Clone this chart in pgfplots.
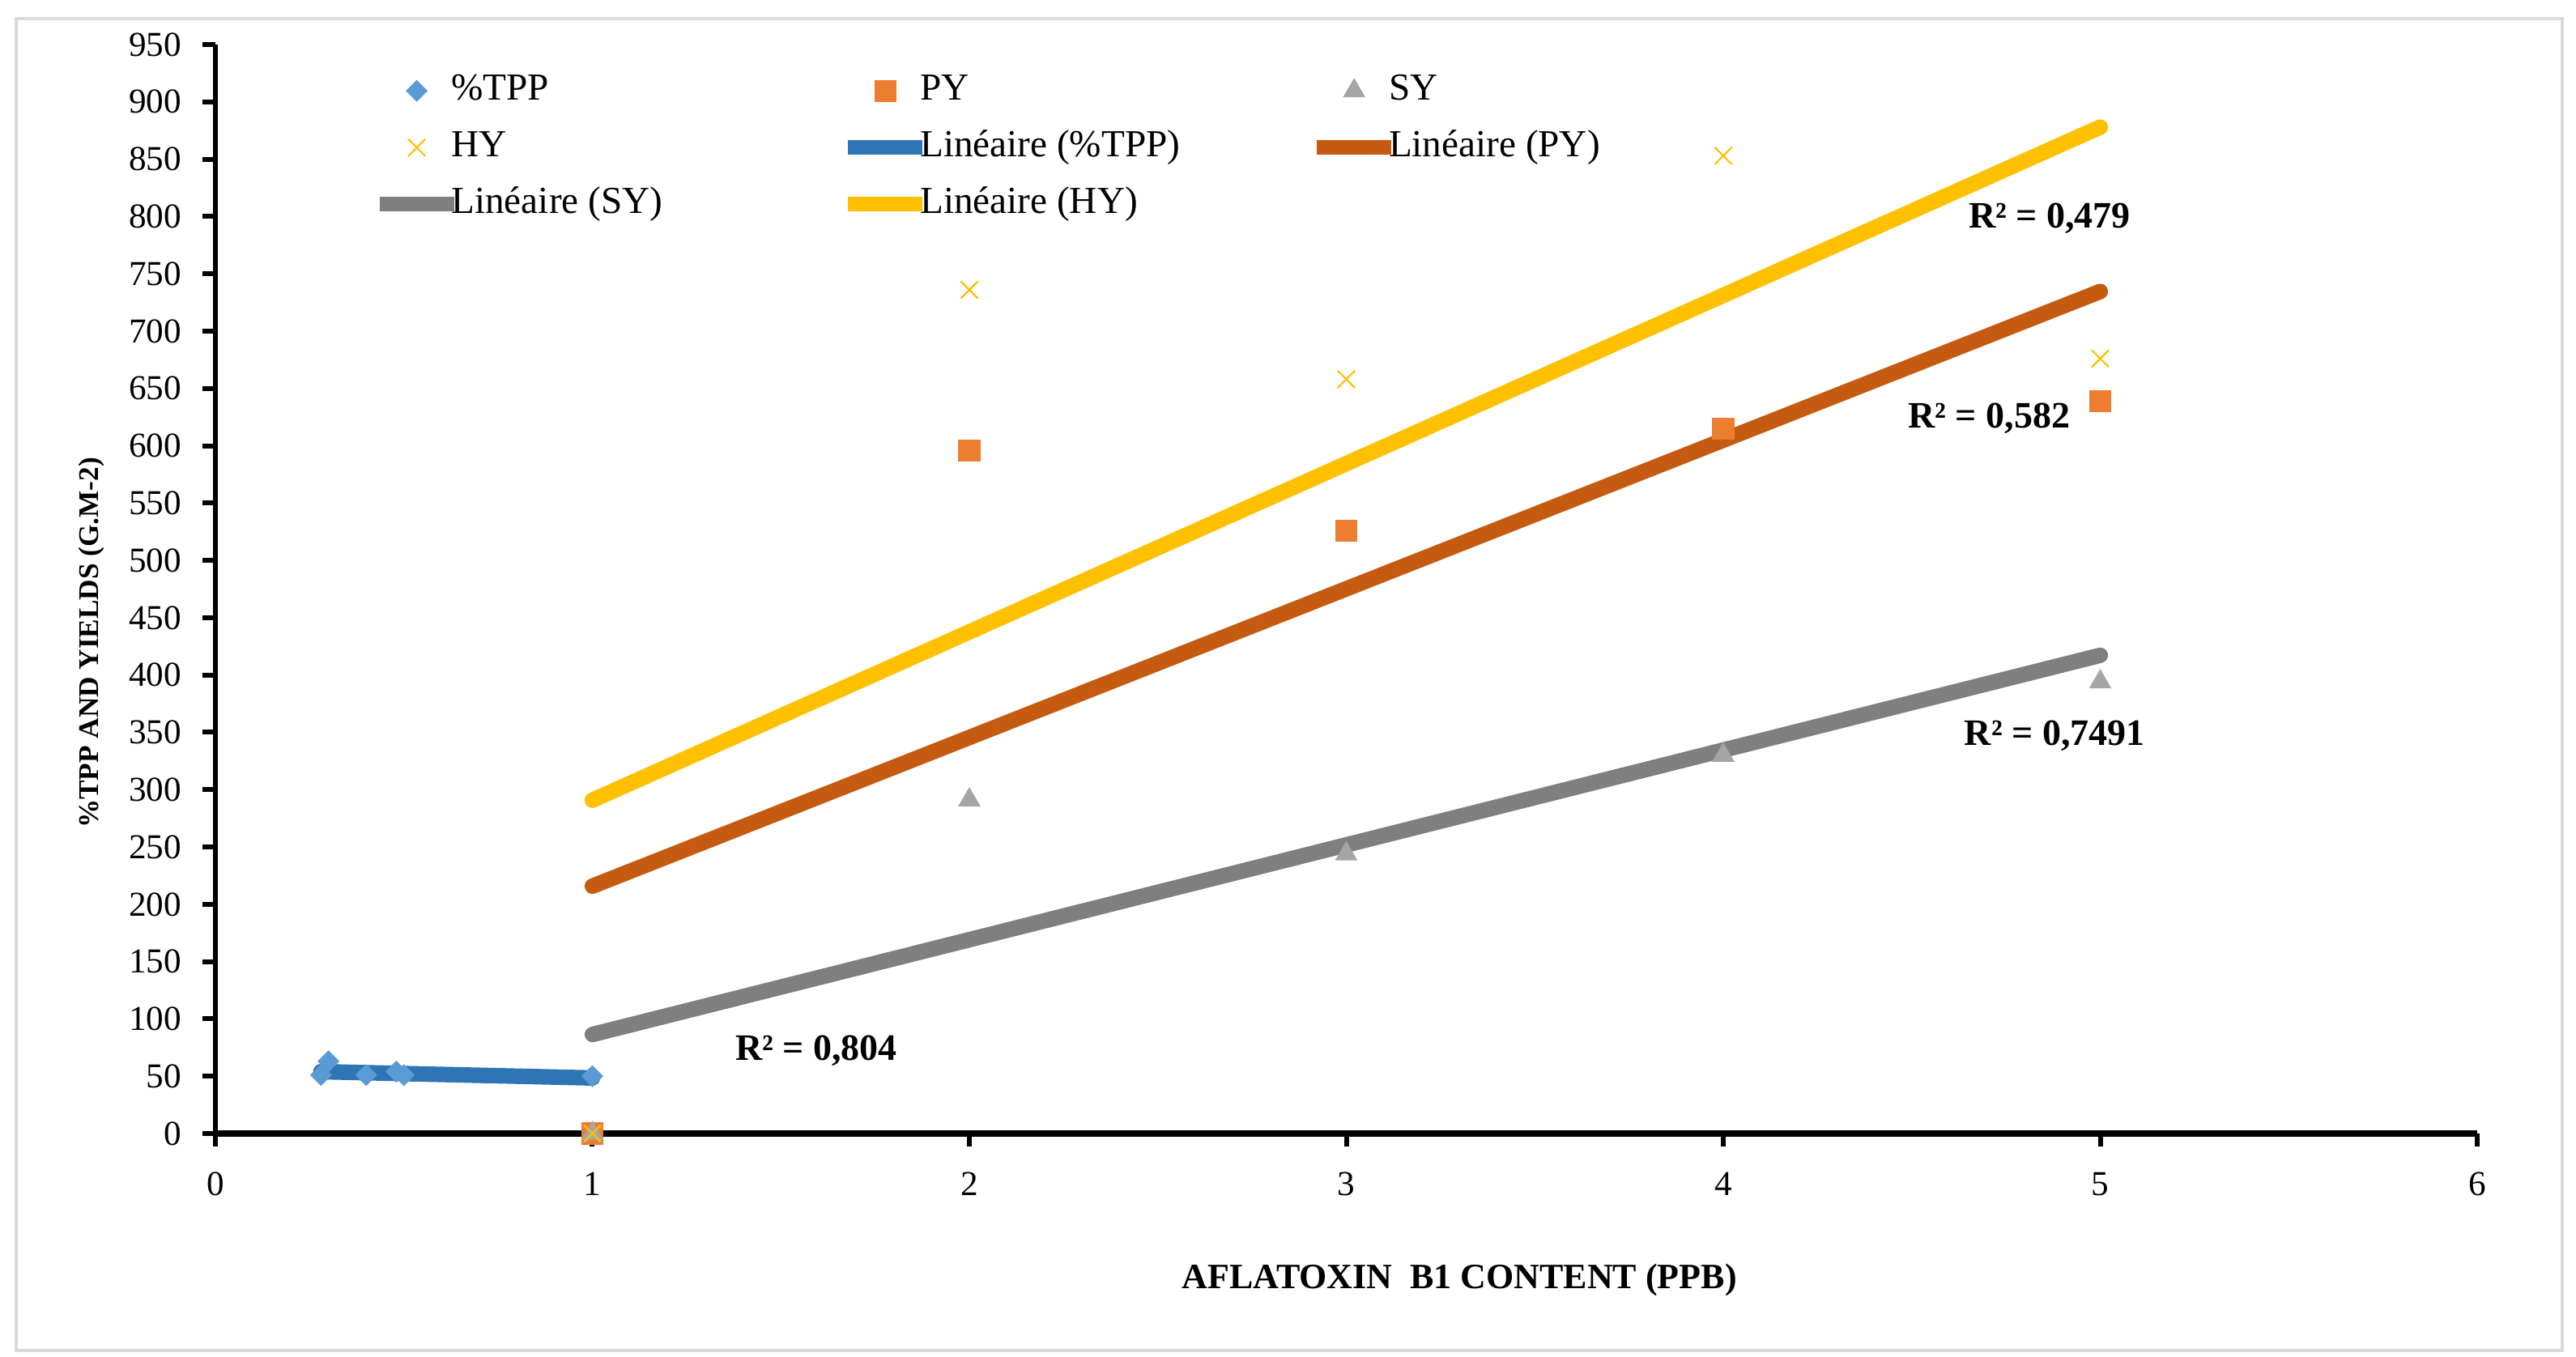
\documentclass[border=0pt]{standalone}
\usepackage{fontspec}
\setmainfont{Liberation Serif}
\usepackage{pgfplots}
\pgfplotsset{compat=1.18}
\definecolor{tppm}{HTML}{5B9BD5}
\definecolor{tppl}{HTML}{2E75B6}
\definecolor{pym}{HTML}{ED7D31}
\definecolor{pyl}{HTML}{C55A11}
\definecolor{sym}{HTML}{A5A5A5}
\definecolor{syl}{HTML}{7F7F7F}
\definecolor{hym}{HTML}{FFC000}
\definecolor{hyl}{HTML}{FFC000}
\definecolor{framegray}{HTML}{D9D9D9}
\newcommand{\lw}[1]{\makebox[115.3pt][l]{\hspace*{-4pt}#1}}
\begin{document}
\begin{tikzpicture}
\path[use as bounding box] (0,0) rectangle (795.25pt,418.75pt);
\draw[framegray, line width=0.8pt] (5pt,1.75pt) rectangle (791pt,413pt);
\begin{axis}[
  at={(66.5pt,68.75pt)}, anchor=south west,
  scale only axis, width=698.25pt, height=336.25pt,
  xmin=0, xmax=6, ymin=0, ymax=950,
  xtick={0,1,2,3,4,5,6}, ytick={0,50,...,950},
  axis x line*=bottom, axis y line*=left,
  x axis line style={line width=2.1pt,-},
  y axis line style={line width=1.5pt,-},
  tick align=outside, major tick length=4pt,
  major tick style={line width=1.5pt, black},
  clip=false,
  /pgf/number format/assume math mode=true,
  ticklabel style={font=\fontsize{10.8}{12}\selectfont},
  xticklabel style={yshift=-4.4pt},
  yticklabel style={xshift=-3pt},
  xlabel={AFLATOXIN\ \ B1 CONTENT (PPB)},
  ylabel={\%TPP AND YIELDS (G.M-2)},
  xlabel style={at={(axis description cs:0.55,-0.1345)}, anchor=center, font=\bfseries\fontsize{11}{13}\selectfont},
  ylabel style={at={(axis description cs:-0.0547,0.4506)}, anchor=center, font=\bfseries\fontsize{8.8}{10}\selectfont},
  legend columns=3,
  legend style={at={(rel axis cs:0,1)}, anchor=north west, xshift=48.25pt, yshift=-7.35pt,
    draw=none, fill=none, inner sep=0pt, column sep=0pt, row sep=4pt,
    font=\fontsize{11.8}{13}\selectfont,
    nodes={inner xsep=1pt, inner ysep=1pt, text height=8.5pt, text depth=3pt}},
  legend cell align=left,
  legend image code/.code={\draw[mark repeat=2,mark phase=2,#1] plot coordinates {(0pt,0pt) (11.5pt,0pt) (23pt,0pt)};},
]
% scatter series
\addplot[only marks, mark=diamond*, mark size=3.1pt, color=tppm, mark options={xscale=1.33}]
  coordinates {(0.28,51) (0.3,63) (0.4,51) (0.48,54) (0.5,51) (1,50)};
\addlegendentry{\lw{\%TPP}}
\addplot[only marks, mark=square*, mark size=3.2pt, color=pym]
  coordinates {(1,0) (2,596) (3,526) (4,615) (5,639)};
\addlegendentry{\lw{PY}}
\addplot[only marks, mark=triangle*, mark size=3.6pt, color=sym]
  coordinates {(1,0) (2,291) (3,244) (4,330) (5,394)};
\addlegendentry{\lw{SY}}
\addplot[only marks, mark=x, mark size=3.75pt, color=hym, mark options={line width=0.55pt}]
  coordinates {(1,0) (2,736) (3,658) (4,853) (5,676)};
\addlegendentry{\lw{HY}}
% linear trend lines
\addplot[tppl, line width=4.8pt, line cap=round, no marks, legend image post style={line width=4.4pt, line cap=butt}] coordinates {(0.28,54) (1,48.5)};
\addlegendentry{\lw{Linéaire (\%TPP)}}
\addplot[pyl, line width=4.8pt, line cap=round, no marks, legend image post style={line width=4.4pt, line cap=butt}] coordinates {(1,215.8) (5,734.6)};
\addlegendentry{\lw{Linéaire (PY)}}
\addplot[syl, line width=4.8pt, line cap=round, no marks, legend image post style={line width=4.4pt, line cap=butt}] coordinates {(1,86.4) (5,417.2)};
\addlegendentry{\lw{Linéaire (SY)}}
\addplot[hyl, line width=4.8pt, line cap=round, no marks, legend image post style={line width=4.4pt, line cap=butt}] coordinates {(1,290.8) (5,878.0)};
\addlegendentry{\lw{Linéaire (HY)}}
% R^2 labels
\node[font=\bfseries\fontsize{11.5}{13}\selectfont] at (axis cs:4.866,798) {R² = 0,479};
\node[font=\bfseries\fontsize{11.5}{13}\selectfont] at (axis cs:4.705,623.7) {R² = 0,582};
\node[font=\bfseries\fontsize{11.5}{13}\selectfont] at (axis cs:4.879,346.8) {R² = 0,7491};
\node[font=\bfseries\fontsize{11.5}{13}\selectfont] at (axis cs:1.594,72) {R² = 0,804};
\end{axis}
\end{tikzpicture}
\end{document}
